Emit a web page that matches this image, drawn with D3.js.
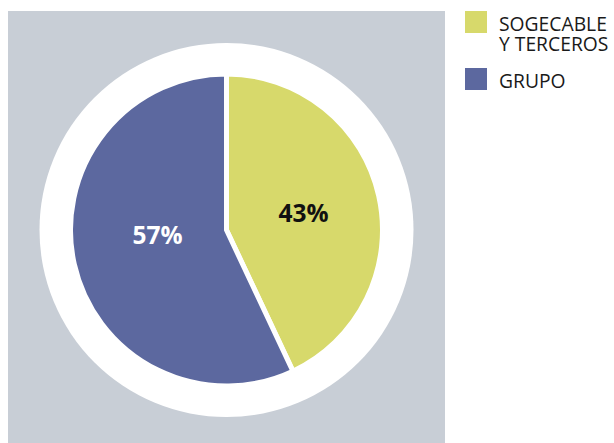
<!DOCTYPE html>
<html><head><meta charset="utf-8">
<script src="https://cdn.jsdelivr.net/npm/d3@7"></script>
<style>body{margin:0;background:#fff}svg{display:block}</style>
</head><body>
<svg id="c" width="614" height="443"></svg>
<script>
const categories = ["SOGECABLE Y TERCEROS", "GRUPO"];
const legendLines = [["SOGECABLE", "Y TERCEROS"], ["GRUPO"]];
const values = [43, 57];
const labels = ["43%", "57%"];
const colors = ["#d7d96b", "#5c689f"];
const labelColors = ["#111111", "#ffffff"];

const svg = d3.select("#c");
const font = "'Open Sans', 'Noto Sans', sans-serif";
svg.append("rect").attr("x", 8).attr("y", 11).attr("width", 437).attr("height", 432).attr("fill", "#c8ced6");

const cx = 226.5, cy = 230;
svg.append("circle").attr("cx", cx).attr("cy", cy).attr("r", 187).attr("fill", "#fff");

const pie = d3.pie().sort(null).value(d => d)(values);
const arc = d3.arc().innerRadius(0).outerRadius(156);
const g = svg.append("g").attr("transform", `translate(${cx},${cy})`);
g.selectAll("path").data(pie).join("path")
  .attr("d", arc).attr("fill", (d, i) => colors[i])
  .attr("stroke", "#fff").attr("stroke-width", 5).attr("stroke-linejoin", "miter");

const labelPos = [[77, -8], [-69, 14]];
g.selectAll("text.lbl").data(pie).join("text").attr("class", "lbl")
  .attr("x", (d, i) => labelPos[i][0]).attr("y", (d, i) => labelPos[i][1])
  .attr("text-anchor", "middle")
  .attr("font-family", font).attr("font-weight", "bold").attr("font-size", 24.5)
  .attr("fill", (d, i) => labelColors[i])
  .text((d, i) => labels[i]);

const leg = svg.append("g");
const legY = [11, 68];
const baseY = [31, 88];
categories.forEach((c, i) => {
  leg.append("rect").attr("x", 465).attr("y", legY[i]).attr("width", 22).attr("height", 22).attr("fill", colors[i]);
  legendLines[i].forEach((ln, j) => {
    leg.append("text").attr("font-family", font).attr("font-size", 19.3).attr("fill", "#1a1a1a")
      .attr("x", 499).attr("y", baseY[i] + j * 20).text(ln);
  });
});
</script>
</body></html>
